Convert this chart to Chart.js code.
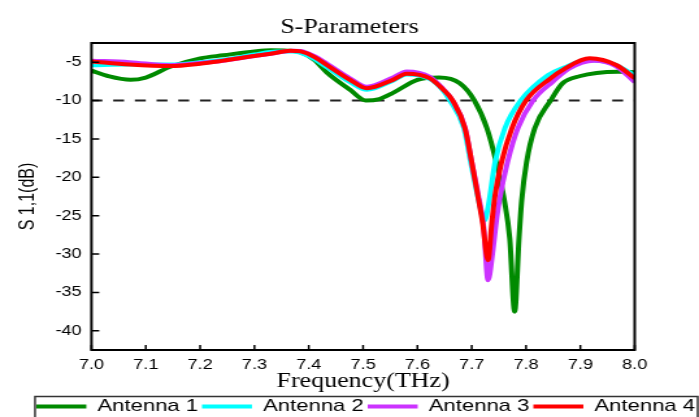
<!DOCTYPE html>
<html>
<head>
<meta charset="utf-8">
<title>S-Parameters</title>
<script src="https://cdn.jsdelivr.net/npm/chart.js@4.4.1/dist/chart.umd.min.js"></script>
<style>
  html, body { margin: 0; padding: 0; background: #fff; overflow: hidden; }
  canvas { display: block; }
</style>
</head>
<body>
<!-- the source figure is stretched sideways, so the canvas is drawn narrow and widened by css -->
<canvas id="chart" width="538" height="417" style="width:699px;height:417px"></canvas>
<script>
// axis ticks
const xTicks = [7.0, 7.1, 7.2, 7.3, 7.4, 7.5, 7.6, 7.7, 7.8, 7.9, 8.0];
const yTicks = [-5, -10, -15, -20, -25, -30, -35, -40];
const threshold = -10;

// Antenna 1 (green)
const freq1 = [7.00, 7.03, 7.072, 7.10, 7.145, 7.20, 7.243, 7.30, 7.33, 7.36, 7.384, 7.41, 7.434, 7.476, 7.505, 7.53, 7.555, 7.60, 7.64, 7.678, 7.705, 7.728, 7.745, 7.760, 7.770, 7.779, 7.787, 7.792, 7.801, 7.816, 7.845, 7.868, 7.90, 7.93, 7.97, 8.00];
const s11_1 = [-6.1, -6.8, -7.3, -7.0, -5.6, -4.5, -4.1, -3.6, -3.45, -3.5, -3.7, -4.7, -6.4, -8.6, -10.0, -9.8, -9.0, -7.3, -7.0, -7.75, -10.0, -13.6, -18.0, -23.0, -28.0, -37.5, -28.0, -23.0, -18.0, -13.6, -10.0, -7.7, -6.8, -6.4, -6.25, -6.3];

// Antenna 2 (cyan)
const freq2 = [7.00, 7.07, 7.145, 7.20, 7.25, 7.30, 7.34, 7.37, 7.40, 7.434, 7.476, 7.507, 7.555, 7.58, 7.623, 7.645, 7.66, 7.6855, 7.698, 7.709, 7.717, 7.724, 7.731, 7.743, 7.761, 7.790, 7.84, 7.87, 7.91, 7.96, 8.00];
const s11_2 = [-5.4, -5.3, -5.3, -5.0, -4.6, -4.0, -3.6, -3.6, -4.2, -5.7, -7.6, -8.6, -7.4, -6.6, -7.2, -8.5, -10.0, -13.6, -18.0, -21.8, -24.3, -25.6, -23.5, -18.0, -13.6, -10.0, -6.7, -5.7, -4.75, -5.2, -6.7];

// Antenna 3 (magenta)
const freq3 = [7.00, 7.07, 7.145, 7.20, 7.243, 7.30, 7.33, 7.37, 7.385, 7.41, 7.434, 7.476, 7.507, 7.555, 7.58, 7.623, 7.645, 7.665, 7.688, 7.700, 7.712, 7.722, 7.730, 7.739, 7.745, 7.751, 7.766, 7.785, 7.813, 7.85, 7.88, 7.925, 7.965, 8.00];
const s11_3 = [-4.8, -5.0, -5.4, -5.1, -4.8, -4.2, -3.9, -3.5, -3.55, -4.2, -5.2, -7.1, -8.2, -7.0, -6.2, -6.9, -8.3, -10.0, -13.6, -18.0, -22.3, -26.5, -33.4, -29.5, -25.9, -23.0, -18.0, -13.6, -10.0, -7.5, -5.8, -4.8, -5.5, -7.6];

// Antenna 4 (red)
const freq4 = [7.00, 7.07, 7.145, 7.20, 7.243, 7.30, 7.33, 7.366, 7.385, 7.41, 7.434, 7.476, 7.507, 7.555, 7.58, 7.623, 7.645, 7.665, 7.6875, 7.700, 7.711, 7.720, 7.730, 7.737, 7.743, 7.755, 7.774, 7.800, 7.845, 7.87, 7.917, 7.967, 8.00];
const s11_4 = [-4.9, -5.3, -5.5, -5.2, -4.8, -4.2, -3.9, -3.5, -3.6, -4.3, -5.4, -7.3, -8.4, -7.3, -6.5, -7.1, -8.4, -10.0, -13.6, -18.0, -22.3, -25.9, -30.8, -25.9, -22.3, -18.0, -13.6, -10.0, -7.1, -5.9, -4.5, -5.4, -7.1];

function toPoints(f, s) {
    return f.map((x, i) => ({ x: x, y: s[i] }));
}

function curve(label, f, s, color, order) {
    return {
        label: label,
        data: toPoints(f, s),
        borderColor: color,
        backgroundColor: color,
        borderWidth: 4,
        pointRadius: 0,
        cubicInterpolationMode: 'monotone',
        fill: false,
        order: order
    };
}

const SANS = 'Liberation Sans';
const SERIF = 'Liberation Serif';

// inward tick marks, plot frame and the box round the legend
const framePlugin = {
    id: 'frame',
    afterDraw(chart) {
        const { ctx, chartArea: a } = chart;
        const x = chart.scales.x, y = chart.scales.y;
        ctx.save();
        ctx.strokeStyle = '#000';
        ctx.lineWidth = 1.5;
        ctx.beginPath();
        xTicks.forEach(v => {
            const px = x.getPixelForValue(v);
            ctx.moveTo(px, a.bottom);
            ctx.lineTo(px, a.bottom - 5);
        });
        yTicks.forEach(v => {
            const py = y.getPixelForValue(v);
            ctx.moveTo(a.left, py);
            ctx.lineTo(a.left + 6, py);
        });
        ctx.stroke();
        ctx.lineWidth = 2;
        ctx.strokeRect(a.left, a.top, a.right - a.left, a.bottom - a.top);

        const lg = chart.legend;
        if (lg && lg.legendHitBoxes && lg.legendHitBoxes.length) {
            const hb = lg.legendHitBoxes;
            const last = hb[hb.length - 1];
            const l = hb[0].left - 1;
            const r = last.left + last.width + 2;
            ctx.lineWidth = 1.5;
            ctx.strokeStyle = '#333';
            ctx.strokeRect(l, lg.top + 1.5, r - l, lg.bottom - lg.top);
        }
        ctx.restore();
    }
};

const ctx = document.getElementById('chart').getContext('2d');
new Chart(ctx, {
    type: 'line',
    data: {
        datasets: [
            curve('Antenna 1', freq1, s11_1, '#008a00', 3),
            curve('Antenna 2', freq2, s11_2, '#00ffff', 2),
            curve('Antenna 3', freq3, s11_3, '#cc33ff', 1),
            curve('Antenna 4', freq4, s11_4, '#ff0000', 0),
            {
                label: 'threshold',
                data: [{ x: xTicks[0], y: threshold }, { x: xTicks[xTicks.length - 1], y: threshold }],
                borderColor: '#222',
                borderWidth: 2,
                borderDash: [8.4, 8.3],
                pointRadius: 0,
                fill: false,
                order: 10
            }
        ]
    },
    options: {
        responsive: false,
        animation: false,
        events: [],
        layout: { padding: { top: 0, left: 0, right: 0, bottom: -8 } },
        scales: {
            x: {
                type: 'linear',
                min: 7.0,
                max: 8.0,
                afterBuildTicks: s => { s.ticks = xTicks.map(v => ({ value: v })); },
                afterFit: s => { s.height = 45; },
                grid: { display: false, drawTicks: false },
                border: { display: false },
                ticks: {
                    padding: 7,
                    color: '#000',
                    maxRotation: 0,
                    autoSkip: false,
                    font: { family: SANS, size: 14 },
                    callback: v => Number(v).toFixed(1)
                },
                title: {
                    display: true,
                    text: 'Frequency(THz)',
                    color: '#000',
                    font: { family: SERIF, size: 20 },
                    padding: { top: 0, bottom: 1.5 }
                }
            },
            y: {
                min: -42.5,
                max: -2.5,
                afterBuildTicks: s => { s.ticks = yTicks.map(v => ({ value: v })); },
                afterFit: s => { s.width = 70.4; },
                grid: { display: false, drawTicks: false },
                border: { display: false },
                ticks: {
                    padding: 7.5,
                    color: '#000',
                    font: { family: SANS, size: 14 },
                    callback: v => String(v)
                },
                title: {
                    display: true,
                    text: 'S 1,1(dB)',
                    color: '#000',
                    font: { family: SANS, size: 16 },
                    padding: { top: 12.3, bottom: 0 }
                }
            },
            y2: {
                position: 'right',
                display: true,
                afterFit: s => { s.width = 49.5; },
                grid: { display: false, drawTicks: false },
                border: { display: false },
                ticks: { display: false }
            }
        },
        plugins: {
            title: {
                display: true,
                text: 'S-Parameters',
                color: '#000',
                font: { family: SERIF, size: 20, weight: 'normal' },
                padding: { top: 16, bottom: 3 }
            },
            legend: {
                position: 'bottom',
                align: 'end',
                labels: {
                    usePointStyle: true,
                    pointStyle: 'line',
                    pointStyleWidth: 38.5,
                    padding: 3,
                    color: '#000',
                    font: { family: SANS, size: 17 },
                    filter: item => item.text.startsWith('Antenna'),
                    sort: (a, b) => a.datasetIndex - b.datasetIndex
                }
            },
            tooltip: { enabled: false }
        }
    },
    plugins: [framePlugin]
});
</script>
</body>
</html>
